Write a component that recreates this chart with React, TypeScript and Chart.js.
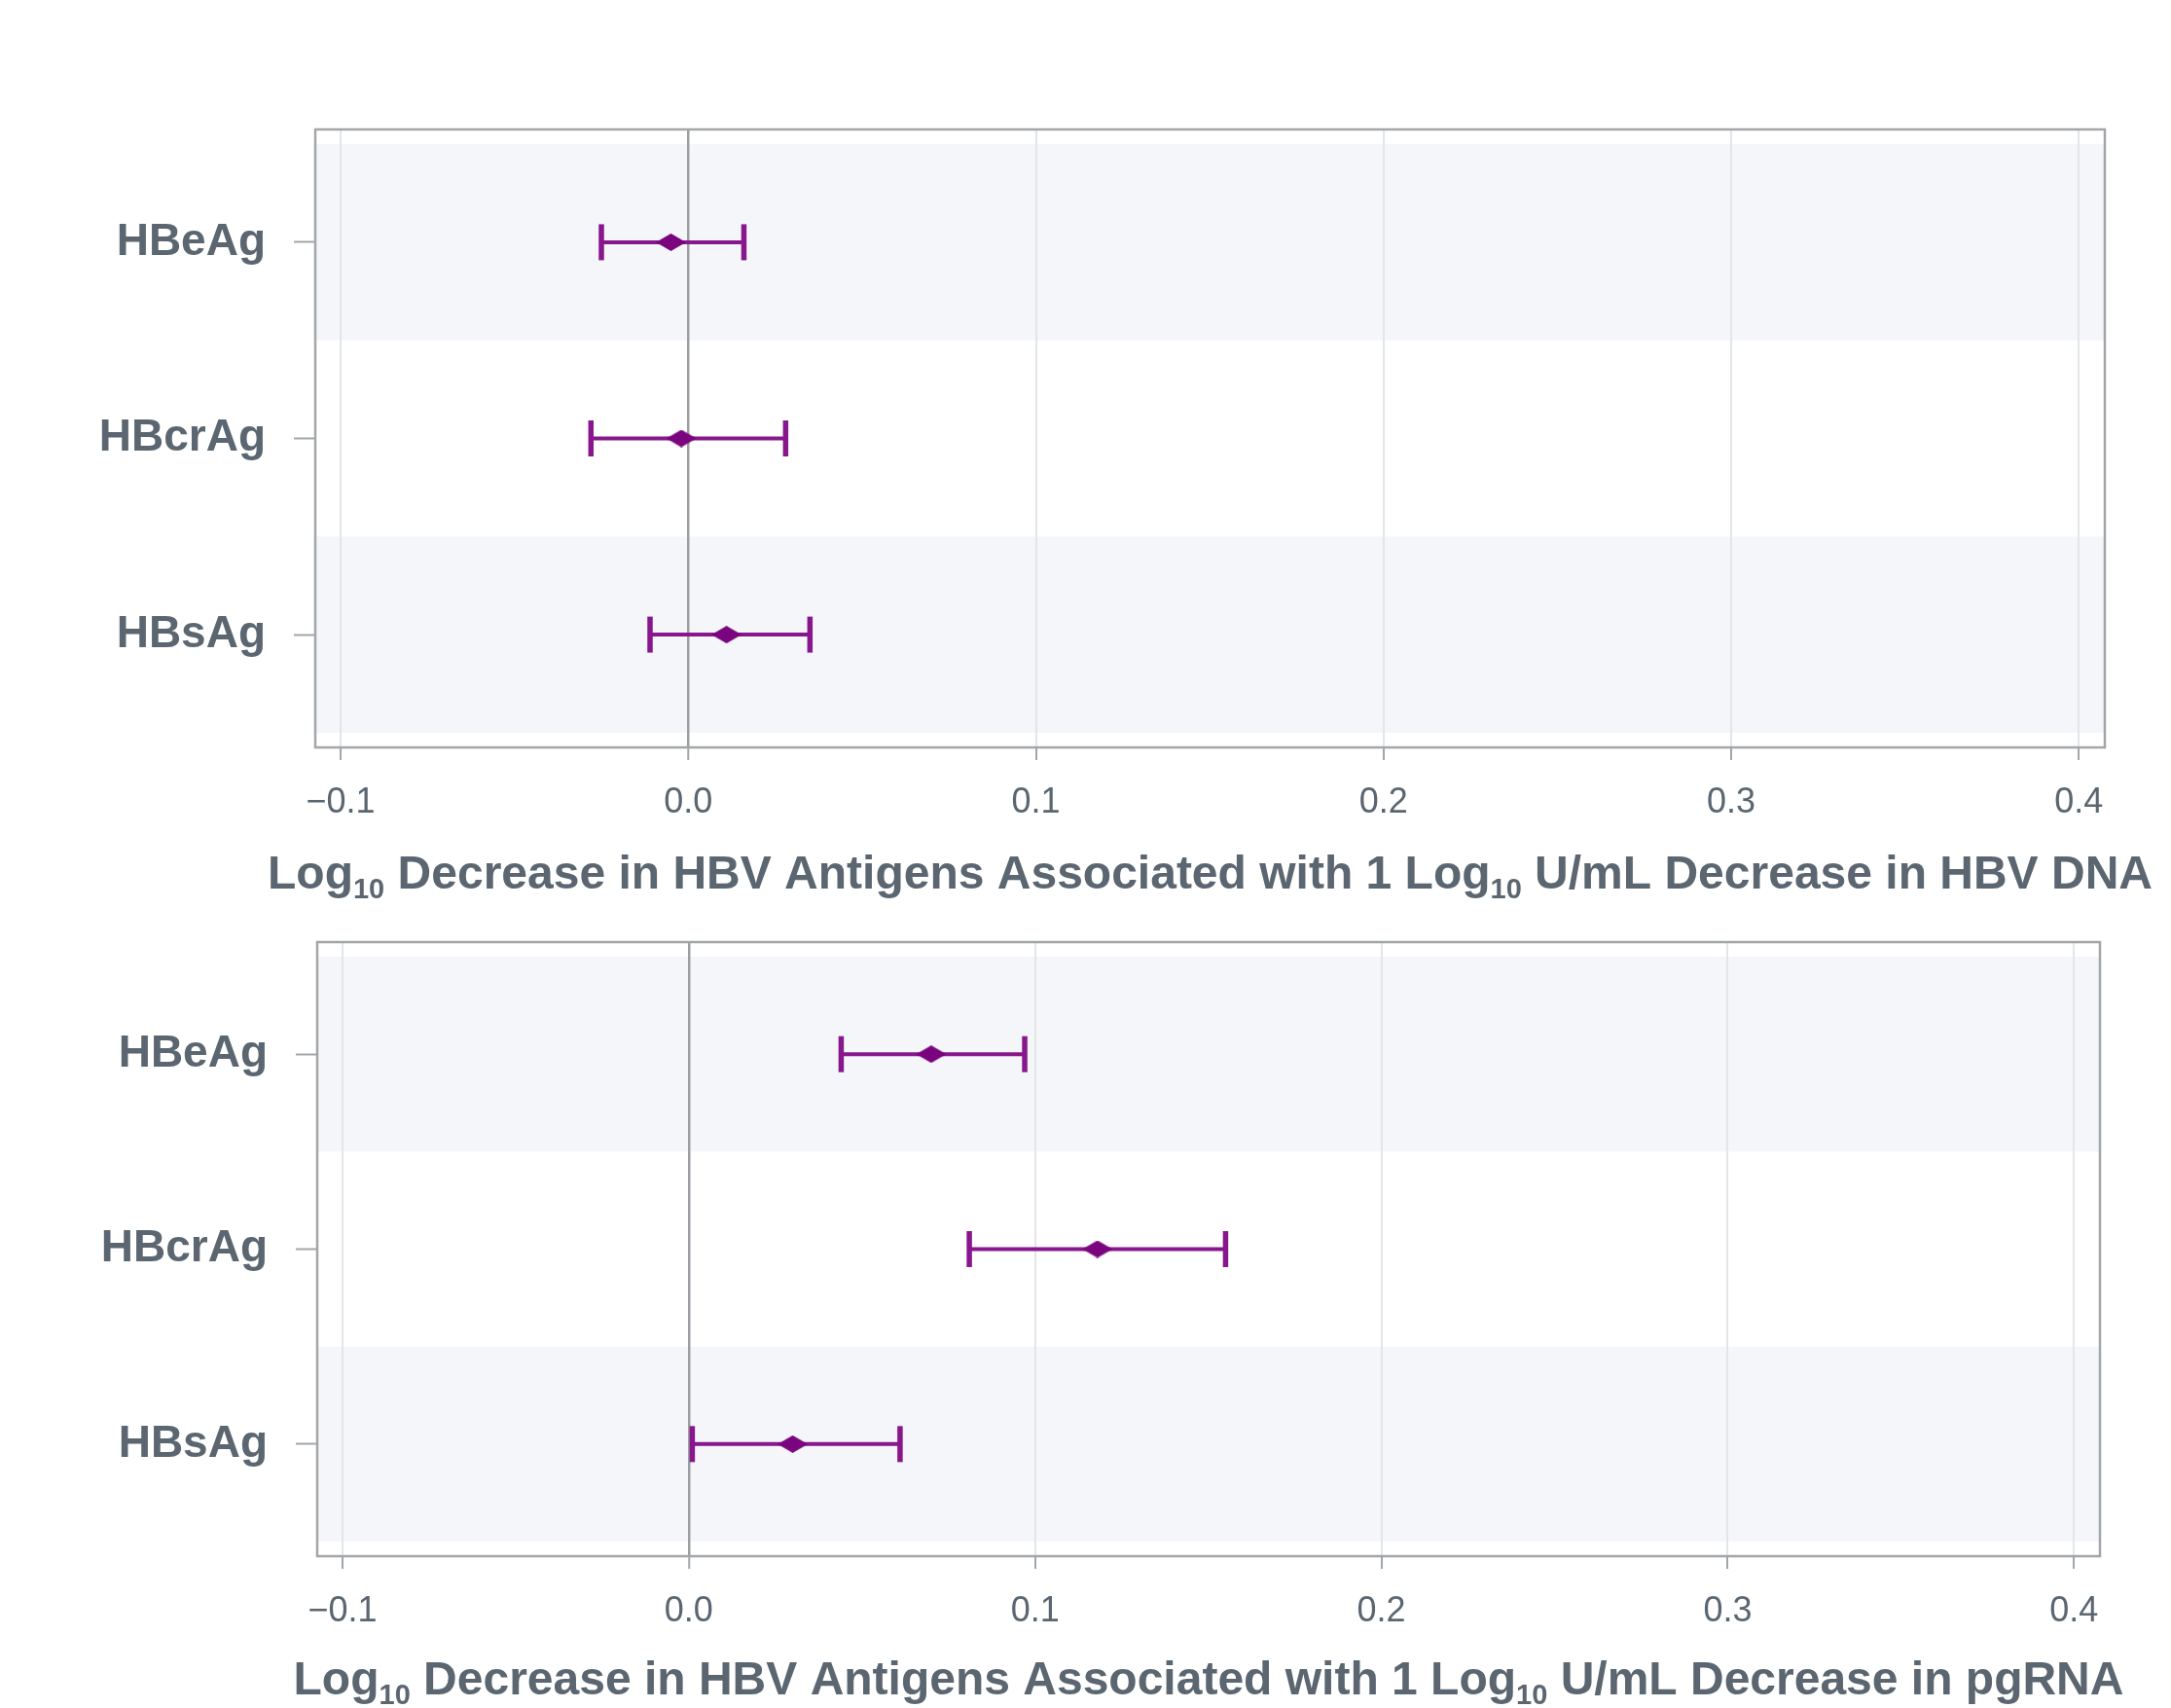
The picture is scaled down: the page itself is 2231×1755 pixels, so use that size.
import React, { useEffect, useRef } from 'react';
import { Chart, registerables } from 'chart.js';

Chart.register(...registerables);

// ---------- data ----------
const categories = ['HBeAg', 'HBcrAg', 'HBsAg'];

const dnaEstimate = [-0.005, -0.002, 0.011];
const dnaLower = [-0.025, -0.028, -0.011];
const dnaUpper = [0.016, 0.028, 0.035];

const rnaEstimate = [0.070, 0.118, 0.030];
const rnaLower = [0.044, 0.081, 0.001];
const rnaUpper = [0.097, 0.155, 0.061];

const xTickValues = [-0.1, 0.0, 0.1, 0.2, 0.3, 0.4];

// '|' separates normal text and subscript text (odd segments are subscripts)
const titleDNA = 'Log|10| Decrease in HBV Antigens Associated with 1 Log|10| U/mL Decrease in HBV DNA';
const titleRNA = 'Log|10| Decrease in HBV Antigens Associated with 1 Log|10| U/mL Decrease in pgRNA';

// ---------- styles ----------
const FONT = "'Liberation Sans', Arial, Helvetica, sans-serif";
const TEXT = '#5b6670';
const AXIS = '#a3a6a9';
const GRID = '#e3e6e9';
const ZERO = '#9c9fa2';
const BAND = '#f4f6f9';
const PURPLE = '#88168c';
const DIAMOND = '#7a047d';

function makeDiamond(w: number, h: number, color: string) {
  const c = document.createElement('canvas');
  c.width = w;
  c.height = h;
  const g = c.getContext('2d')!;
  g.fillStyle = color;
  g.beginPath();
  g.moveTo(w / 2, 0);
  g.lineTo(w, h / 2);
  g.lineTo(w / 2, h);
  g.lineTo(0, h / 2);
  g.closePath();
  g.fill();
  return c;
}

const bandsPlugin = {
  id: 'bands',
  beforeDraw(chart: any) {
    const { ctx, chartArea, scales } = chart;
    const y = scales.y;
    ctx.save();
    ctx.fillStyle = BAND;
    categories.forEach((_, i) => {
      if (i % 2 !== 0) return;
      const a = y.getPixelForValue(i - 0.5);
      const b = y.getPixelForValue(i + 0.5);
      ctx.fillRect(chartArea.left, Math.min(a, b), chartArea.right - chartArea.left, Math.abs(b - a));
    });
    ctx.restore();
  },
};

const frameTitlePlugin = {
  id: 'frameTitle',
  afterDraw(chart: any, _args: any, opts: any) {
    const { ctx, chartArea } = chart;
    ctx.save();
    ctx.strokeStyle = AXIS;
    ctx.lineWidth = 2.5;
    ctx.strokeRect(chartArea.left, chartArea.top, chartArea.right - chartArea.left, chartArea.bottom - chartArea.top);

    const parts: string[] = (opts.text || '').split('|');
    const mainFont = `bold 48px ${FONT}`;
    const subFont = `bold 29px ${FONT}`;
    let total = 0;
    const widths = parts.map((p, i) => {
      ctx.font = i % 2 ? subFont : mainFont;
      const w = ctx.measureText(p).width;
      total += w;
      return w;
    });
    let x = (chartArea.left + chartArea.right) / 2 - total / 2;
    ctx.fillStyle = TEXT;
    ctx.textBaseline = 'alphabetic';
    ctx.textAlign = 'left';
    parts.forEach((p, i) => {
      ctx.font = i % 2 ? subFont : mainFont;
      ctx.fillText(p, x, opts.baseline + (i % 2 ? 10 : 0));
      x += widths[i];
    });
    ctx.restore();
  },
};

function fmt(v: number) {
  if (Math.abs(v) < 1e-9) return '0.0';
  return (v < 0 ? '\u2212' : '') + Math.abs(v).toFixed(1);
}

type Props = {
  est: number[];
  lo: number[];
  hi: number[];
  title: string;
  top: number;
  height: number;
  padTop: number;
  padRight: number;
  padBottom: number;
  yWidth: number;
  baseline: number;
};

function ForestChart(p: Props) {
  const ref = useRef<HTMLCanvasElement>(null);
  useEffect(() => {
    const diamond = makeDiamond(31, 18, DIAMOND);
    const datasets: any[] = [];
    datasets.push({
      label: 'estimate',
      data: p.est.map((v, i) => ({ x: v, y: i })),
      pointStyle: diamond,
      pointRadius: 15,
      showLine: false,
    });
    datasets.push({
      label: 'caps',
      data: [...p.lo.map((v, i) => ({ x: v, y: i })), ...p.hi.map((v, i) => ({ x: v, y: i }))],
      pointStyle: 'line',
      rotation: 90,
      pointRadius: 18.5,
      pointBorderWidth: 5.5,
      pointBorderColor: PURPLE,
      pointBackgroundColor: PURPLE,
      showLine: false,
    });
    p.lo.forEach((v, i) => {
      datasets.push({
        label: 'ci' + i,
        data: [{ x: v, y: i }, { x: p.hi[i], y: i }],
        showLine: true,
        borderColor: PURPLE,
        borderWidth: 4,
        pointRadius: 0,
      });
    });

    const chart = new Chart(ref.current!, {
      type: 'scatter',
      data: { datasets },
      plugins: [bandsPlugin, frameTitlePlugin],
      options: {
        animation: false,
        responsive: false,
        events: [],
        layout: { padding: { top: p.padTop, right: p.padRight, bottom: p.padBottom, left: 0 } },
        plugins: {
          legend: { display: false },
          tooltip: { enabled: false },
          frameTitle: { text: p.title, baseline: p.baseline },
        } as any,
        scales: {
          x: {
            type: 'linear',
            min: -0.1073,
            max: 0.4075,
            afterBuildTicks: (s: any) => {
              s.ticks = xTickValues.map((v) => ({ value: v }));
            },
            afterFit: (s: any) => {
              s.height = 100;
              s.paddingLeft = 0;
              s.paddingRight = 0;
            },
            ticks: {
              callback: (v: any) => fmt(Number(v)),
              font: { family: FONT, size: 36 },
              color: TEXT,
              padding: 22,
              maxRotation: 0,
              autoSkip: false,
            },
            grid: {
              color: (c: any) => (c.tick && Math.abs(c.tick.value) < 1e-9 ? ZERO : GRID),
              lineWidth: (c: any) => (c.tick && Math.abs(c.tick.value) < 1e-9 ? 2.5 : 2),
              tickColor: AXIS,
              tickLength: 13,
              tickWidth: 2,
            },
            border: { display: false },
          },
          y: {
            type: 'linear',
            reverse: true,
            min: -0.575,
            max: 2.575,
            afterBuildTicks: (s: any) => {
              s.ticks = categories.map((_, i) => ({ value: i }));
            },
            afterFit: (s: any) => {
              s.width = p.yWidth;
              s.paddingTop = 0;
              s.paddingBottom = 0;
            },
            ticks: {
              callback: (v: any) => categories[Number(v)] ?? '',
              font: { family: FONT, size: 46, weight: 'bold' },
              color: TEXT,
              padding: 29,
              autoSkip: false,
            },
            grid: {
              drawOnChartArea: false,
              tickColor: AXIS,
              tickLength: 22,
              tickWidth: 2,
            },
            border: { display: false },
          },
        },
      } as any,
    });
    return () => chart.destroy();
  }, []);
  return (
    <canvas
      ref={ref}
      width={2231}
      height={p.height}
      style={{ position: 'absolute', left: 0, top: p.top, width: 2231, height: p.height }}
    />
  );
}

export default function App() {
  return (
    <div style={{ position: 'absolute', left: 0, top: 0, width: 2231, height: 1755, background: '#ffffff', overflow: 'hidden' }}>
      <ForestChart
        est={dnaEstimate}
        lo={dnaLower}
        hi={dnaUpper}
        title={titleDNA}
        top={0}
        height={925}
        padTop={133}
        padRight={68}
        padBottom={57}
        yWidth={324}
        baseline={913}
      />
      <ForestChart
        est={rnaEstimate}
        lo={rnaLower}
        hi={rnaUpper}
        title={titleRNA}
        top={925}
        height={830}
        padTop={43}
        padRight={73}
        padBottom={56}
        yWidth={326}
        baseline={816}
      />
    </div>
  );
}
